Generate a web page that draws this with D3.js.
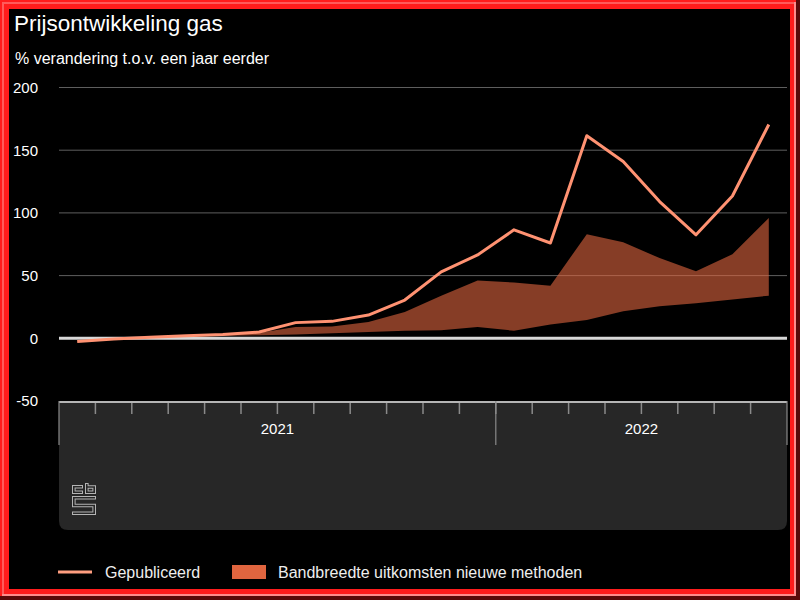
<!DOCTYPE html>
<meta charset="utf-8">
<style>
body { margin: 0; background: #000; }
text { font-family: "Liberation Sans", Arial, sans-serif; }
</style>
<script src="https://cdn.jsdelivr.net/npm/d3@7"></script>
<body>
<script>
// maanden jan 2021 t/m aug 2022
const months = ['2021-01','2021-02','2021-03','2021-04','2021-05','2021-06','2021-07','2021-08','2021-09','2021-10','2021-11','2021-12',
                '2022-01','2022-02','2022-03','2022-04','2022-05','2022-06','2022-07','2022-08'];
const published = [-2.5, -0.5, 0.8, 2, 3, 5, 12.5, 13.5, 18.5, 30.5, 53, 66.5, 86.5, 76, 161.5, 141, 109, 82.5, 113.5, 170.5];
const bandHigh  = [-2.5, -0.5, 0.8, 2, 2.8, 4.5, 9, 9.5, 13, 21, 34, 46, 44.5, 42, 83, 76.5, 64, 53.5, 67, 96];
const bandLow   = [-2.5, -1, 0.5, 1.5, 2, 2.5, 3, 4, 5, 6, 6.5, 9, 6, 11, 14.5, 21.5, 25.5, 28, 31, 34];
const yTicks = [-50, 0, 50, 100, 150, 200];
const years = ['2021', '2022'];

const W = 800, H = 600;
const lineColor = '#ff9272';
const bandColor = '#e0653f';
const panelColor = '#272727';

const svg = d3.select('body').append('svg')
    .attr('width', W)
    .attr('height', H);

// rode rand
svg.append('rect').attr('width', W).attr('height', H).attr('fill', '#ff1c1c');
svg.append('rect').attr('x', 2).attr('y', 2).attr('width', 2).attr('height', 592).attr('fill', '#ff5a5a');
svg.append('rect').attr('x', 2).attr('y', 2).attr('width', 792).attr('height', 2).attr('fill', '#ff5a5a');
svg.append('rect').attr('x', 794).attr('y', 2).attr('width', 2).attr('height', 594).attr('fill', '#ff8c8c');
svg.append('rect').attr('x', 2).attr('y', 594).attr('width', 794).attr('height', 2).attr('fill', '#ff8c8c');
svg.append('rect').attr('x', 796).attr('y', 0).attr('width', 4).attr('height', 600).attr('fill', '#5a0a0a');
svg.append('rect').attr('x', 0).attr('y', 596).attr('width', 800).attr('height', 4).attr('fill', '#5a0a0a');
svg.append('rect').attr('x', 9).attr('y', 9).attr('width', 781).attr('height', 580).attr('fill', '#000');

// titels
svg.append('text').attr('x', 14).attr('y', 31)
    .attr('fill', '#fff').style('font-size', '22.5px')
    .text('Prijsontwikkeling gas');
svg.append('text').attr('x', 15).attr('y', 64)
    .attr('fill', '#fff').style('font-size', '16px')
    .text('% verandering t.o.v. een jaar eerder');

const left = 59, right = 787;
const x = d3.scaleBand().domain(months).range([left, right]).padding(0);
const y = d3.scaleLinear().domain([-50, 200]).range([401, 87.5]);
const cx = m => x(m) + x.bandwidth() / 2;

// x-as paneel
const panelTop = 401, panelBottom = 530, r = 9;
svg.append('path')
    .attr('d', `M${left},${panelTop}H${right}V${panelBottom - r}Q${right},${panelBottom} ${right - r},${panelBottom}H${left + r}Q${left},${panelBottom} ${left},${panelBottom - r}Z`)
    .attr('fill', panelColor);

// rasterlijnen
const grid = svg.append('g');
grid.selectAll('line').data(yTicks.filter(d => d !== 0 && d !== -50)).join('line')
    .attr('x1', left).attr('x2', right)
    .attr('y1', d => y(d)).attr('y2', d => y(d))
    .attr('stroke', '#5e5e5e').attr('stroke-width', 1);

grid.selectAll('text').data(yTicks).join('text')
    .attr('x', 38).attr('y', d => y(d)).attr('dy', '0.36em')
    .attr('text-anchor', 'end')
    .attr('fill', '#fff').style('font-size', '15px')
    .text(d => d);

// bandbreedte
const area = d3.area()
    .x((d, i) => cx(months[i]))
    .y0((d, i) => y(bandLow[i]))
    .y1((d, i) => y(bandHigh[i]));
svg.append('path').datum(months)
    .attr('d', area)
    .attr('fill', bandColor).attr('fill-opacity', 0.6);

// nullijn
svg.append('line')
    .attr('x1', left).attr('x2', right)
    .attr('y1', y(0)).attr('y2', y(0))
    .attr('stroke', '#d8d8d8').attr('stroke-width', 3);

// gepubliceerd
const line = d3.line()
    .x((d, i) => cx(months[i]))
    .y(d => y(d));
svg.append('path').datum(published)
    .attr('d', line)
    .attr('fill', 'none')
    .attr('stroke', lineColor).attr('stroke-width', 3)
    .attr('stroke-linejoin', 'round');

// x-as
const axisG = svg.append('g');
axisG.append('line')
    .attr('x1', left).attr('x2', right)
    .attr('y1', 402).attr('y2', 402)
    .attr('stroke', '#b5b5b5').attr('stroke-width', 2);
axisG.selectAll('line.tick').data(months.slice(1)).join('line')
    .attr('class', 'tick')
    .attr('x1', d => x(d)).attr('x2', d => x(d))
    .attr('y1', 403).attr('y2', 414)
    .attr('stroke', '#8a8a8a').attr('stroke-width', 1.5);

const yearStarts = years.map(yr => x(months.find(m => m.startsWith(yr))));
const yearEnds = years.map(yr => {
  const ms = months.filter(m => m.startsWith(yr));
  return x(ms[ms.length - 1]) + x.bandwidth();
});
axisG.selectAll('line.year').data(yearStarts.concat([right])).join('line')
    .attr('class', 'year')
    .attr('x1', d => d).attr('x2', d => d)
    .attr('y1', 401).attr('y2', 445)
    .attr('stroke', '#8a8a8a').attr('stroke-width', 1.2);
axisG.selectAll('text').data(years).join('text')
    .attr('x', (d, i) => (yearStarts[i] + yearEnds[i]) / 2)
    .attr('y', 434)
    .attr('text-anchor', 'middle')
    .attr('fill', '#fff').style('font-size', '15px')
    .text(d => d);

// cbs logo: dikke lijn met omtrek
const logo = svg.append('g').attr('transform', 'translate(72,483)');
const logoOuter = [
  'M11,3.8H1.8V9.2H11',
  'M14.8,0V9.2H22.2V4H14.8',
  'M24,14.8H1.8V22.5H22.2V30.2H0'
];
const logoInner = [
  'M10,3.8H1.8V9.2H10',
  'M14.8,1V9.2H22.2V4H14.8',
  'M23,14.8H1.8V22.5H22.2V30.2H1'
];
logo.selectAll('path.o').data(logoOuter).join('path')
    .attr('class', 'o')
    .attr('d', d => d).attr('fill', 'none')
    .attr('stroke', '#b4b4b4').attr('stroke-width', 3.6)
    .attr('stroke-linejoin', 'miter').attr('stroke-linecap', 'butt');
logo.selectAll('path.i').data(logoInner).join('path')
    .attr('class', 'i')
    .attr('d', d => d).attr('fill', 'none')
    .attr('stroke', panelColor).attr('stroke-width', 1.6)
    .attr('stroke-linejoin', 'miter').attr('stroke-linecap', 'butt');

// legenda
const legend = svg.append('g');
legend.append('line')
    .attr('x1', 58).attr('x2', 92).attr('y1', 572).attr('y2', 572)
    .attr('stroke', '#ff9e80').attr('stroke-width', 3);
legend.append('text').attr('x', 105).attr('y', 578)
    .attr('fill', '#eee').style('font-size', '16px')
    .text('Gepubliceerd');
legend.append('rect')
    .attr('x', 232).attr('y', 565).attr('width', 34).attr('height', 14)
    .attr('fill', bandColor);
legend.append('text').attr('x', 278).attr('y', 578)
    .attr('fill', '#eee').style('font-size', '16px')
    .text('Bandbreedte uitkomsten nieuwe methoden');
</script>
</body>
</html>
